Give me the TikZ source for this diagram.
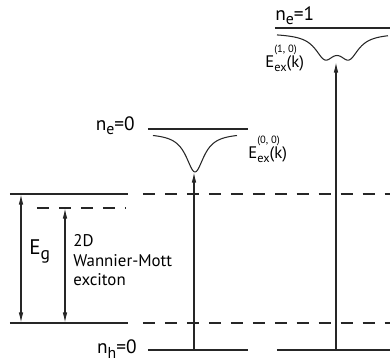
\documentclass[tikz,border=0pt]{standalone}
\usepackage{fontspec}
\setmainfont{PT Sans}
\usetikzlibrary{arrows.meta}
\newcommand\lsub[2]{\raisebox{-2.4pt}{\fontsize{#1}{#1}\selectfont#2}}
\newcommand\eex[1]{E\rlap{\raisebox{8.5pt}{\fontsize{6pt}{6pt}\selectfont(#1)}}\lsub{7pt}{ex}(k)}

\begin{document}
\begin{tikzpicture}[x=0.02cm, y=-0.02cm, level/.style={line width=0.7pt, draw=black!85}, dlevel/.style={level, dash pattern=on 6.8pt off 5.7pt}, nlbl/.style={font=\fontsize{11pt}{13pt}\selectfont, inner sep=0pt}, elbl/.style={font=\fontsize{9.5pt}{11pt}\selectfont, inner sep=0pt}, >={Latex[length=6pt,width=2.6pt]}]
\useasboundingbox (0,0) rectangle (390,362);
% band edges and exciton level
\coordinate (egT) at (21,194); \coordinate (egB) at (21,323);
\coordinate (exT) at (65,208); \coordinate (exB) at (65,323);
\draw[level] (10,194) -- (128,194); \draw[level] (10,323) -- (128,323);
\draw[dlevel] (143,194) -- (390,194); \draw[dlevel] (143,323) -- (390,323);
\draw[dlevel] (37,208) -- (125,208);
\draw[<->, level] (egT) -- (egB); \draw[<->, level] (exT) -- (exB);
\node[anchor=base west, font=\fontsize{12pt}{14pt}\selectfont, inner sep=0pt] (eg) at (29,255) {E\lsub{10pt}{g}};
\node[anchor=north west, align=left, inner sep=0pt, font=\fontsize{9.6pt}{11.2pt}\selectfont] (wm) at (73,234) {2D\\Wannier-Mott\\exciton};
% hole and electron levels
\draw[level] (148,350) -- (248,350); \draw[level] (277,350) -- (390,350);
\draw[level] (148,129) -- (248,129); \draw[level] (275,28) -- (390,28);
\node[nlbl, anchor=base east] (nh0) at (137,354) {n\lsub{9pt}{h}=0};
\node[nlbl, anchor=base east] (ne0) at (135,130) {n\lsub{9pt}{e}=0};
\node[nlbl, anchor=base west] (ne1) at (275,20) {n\lsub{9pt}{e}=1};
% exciton dispersions
\draw[level, line width=0.6pt, smooth] plot[domain=153:237, samples=90] (\x, {133+39/(1+((\x-195)/11)^2)});
\draw[level, line width=0.6pt, smooth] plot[domain=277:388, samples=120] (\x, {33+22.5*(1/(1+((\x-325)/12)^2)+1/(1+((\x-349)/12)^2))});
\node[elbl, anchor=base west] (e00) at (248,158) {\eex{0, 0}};
\node[elbl, anchor=base west] (e10) at (265,67) {\eex{1, 0}};
% optical transitions
\coordinate (a0) at (194,350); \coordinate (m0) at (194,172);
\coordinate (a1) at (336,350); \coordinate (m1) at (336,62);
\draw[->, level] (a0) -- (m0); \draw[->, level] (a1) -- (m1);
\end{tikzpicture}
\end{document}
